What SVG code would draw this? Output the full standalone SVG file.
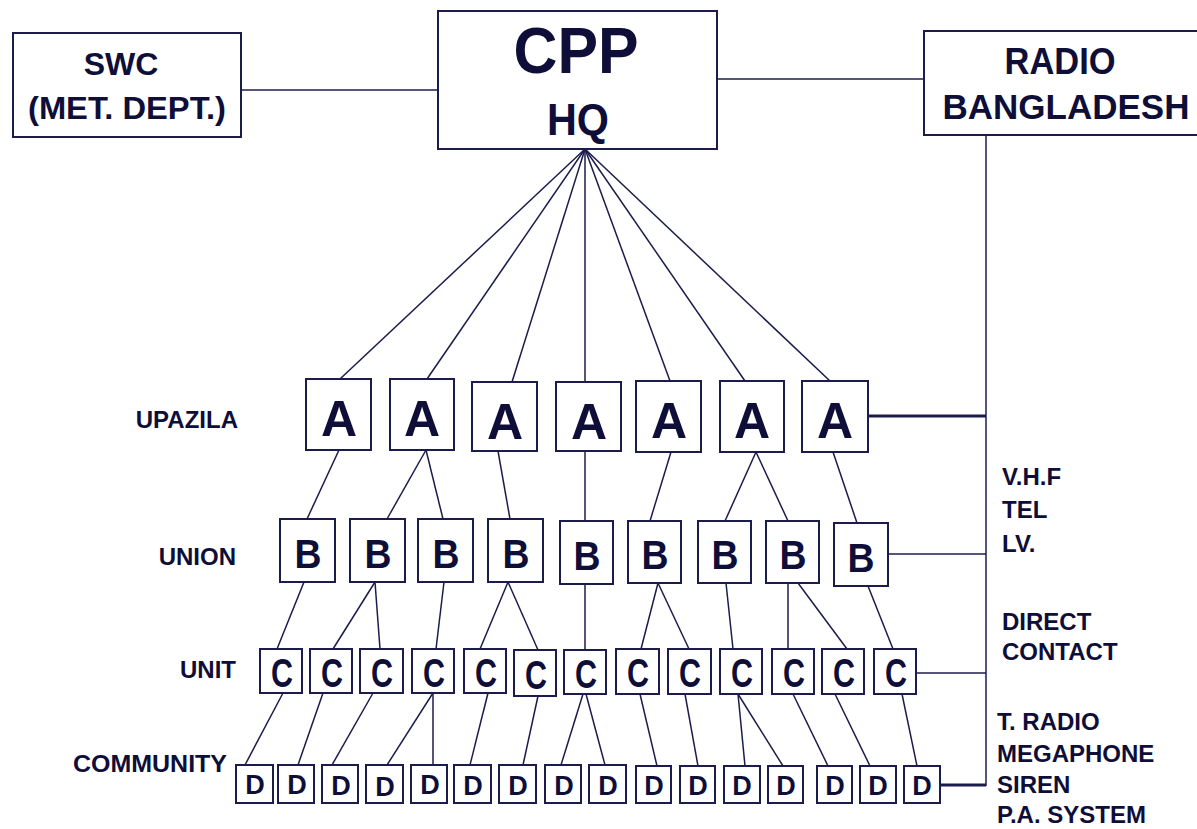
<svg xmlns="http://www.w3.org/2000/svg" width="1197" height="829" viewBox="0 0 1197 829">
<style>
.bx{fill:#fff;stroke:#1c1c4c;stroke-width:2}
.t{font-family:"Liberation Sans",Arial,sans-serif;font-weight:bold;fill:#0e0e38}
.m{text-anchor:middle}
.e{text-anchor:end}
.lbl{font-size:24px}
.ta{font-size:50px}
.tb{font-size:40px}
.tc{font-size:40px}
.td{font-size:27px}
#connectors line{stroke:#1c1c4c;stroke-width:1.5}
#connectors .thick{stroke-width:3}
</style>
<rect width="1197" height="829" fill="#fff"/>
<g id="connectors">
<line x1="241" y1="90" x2="438" y2="90"/>
<line x1="717" y1="79" x2="924" y2="79"/>
<line x1="986" y1="135" x2="986" y2="786"/>
<line class="thick" x1="868" y1="416" x2="986" y2="416"/>
<line x1="888" y1="554" x2="986" y2="554"/>
<line x1="916" y1="673" x2="986" y2="673"/>
<line class="thick" x1="940" y1="785" x2="986" y2="785"/>
<line x1="585" y1="149" x2="340" y2="379"/>
<line x1="585" y1="149" x2="427" y2="379"/>
<line x1="585" y1="149" x2="512" y2="382"/>
<line x1="585" y1="149" x2="585" y2="382"/>
<line x1="585" y1="149" x2="670" y2="381"/>
<line x1="585" y1="149" x2="745" y2="381"/>
<line x1="585" y1="149" x2="830" y2="381"/>
<line x1="339" y1="450" x2="307" y2="519"/>
<line x1="426" y1="450" x2="387" y2="519"/>
<line x1="426" y1="450" x2="443" y2="519"/>
<line x1="498" y1="451" x2="510" y2="519"/>
<line x1="585" y1="451" x2="585" y2="521"/>
<line x1="671" y1="452" x2="650" y2="521"/>
<line x1="756" y1="452" x2="725" y2="521"/>
<line x1="756" y1="452" x2="788" y2="521"/>
<line x1="833" y1="452" x2="857" y2="523"/>
<line x1="304" y1="582" x2="277" y2="649"/>
<line x1="375" y1="582" x2="333" y2="649"/>
<line x1="375" y1="582" x2="380" y2="649"/>
<line x1="444" y1="582" x2="436" y2="649"/>
<line x1="508" y1="582" x2="480" y2="649"/>
<line x1="508" y1="582" x2="538" y2="650"/>
<line x1="585" y1="584" x2="585" y2="650"/>
<line x1="658" y1="583" x2="641" y2="649"/>
<line x1="658" y1="583" x2="689" y2="649"/>
<line x1="726" y1="583" x2="733" y2="649"/>
<line x1="788" y1="583" x2="788" y2="649"/>
<line x1="798" y1="583" x2="847" y2="649"/>
<line x1="868" y1="586" x2="893" y2="649"/>
<line x1="283" y1="693" x2="245" y2="765"/>
<line x1="323" y1="693" x2="298" y2="765"/>
<line x1="373" y1="693" x2="332" y2="765"/>
<line x1="433" y1="693" x2="387" y2="765"/>
<line x1="433" y1="693" x2="433" y2="765"/>
<line x1="488" y1="693" x2="470" y2="765"/>
<line x1="538" y1="696" x2="523" y2="765"/>
<line x1="583" y1="694" x2="561" y2="765"/>
<line x1="586" y1="694" x2="605" y2="765"/>
<line x1="640" y1="694" x2="657" y2="766"/>
<line x1="685" y1="694" x2="698" y2="766"/>
<line x1="738" y1="694" x2="745" y2="766"/>
<line x1="738" y1="694" x2="783" y2="766"/>
<line x1="793" y1="694" x2="828" y2="766"/>
<line x1="835" y1="694" x2="870" y2="766"/>
<line x1="902" y1="694" x2="917" y2="766"/>
</g>
<g id="swc"><rect class="bx" x="13" y="33" width="228" height="104"/>
<text class="t m" x="121" y="75" font-size="32">SWC</text>
<text class="t m" x="127" y="119" font-size="31" textLength="198" lengthAdjust="spacingAndGlyphs">(MET. DEPT.)</text></g>
<g id="cpp"><rect class="bx" x="438" y="11" width="279" height="138"/>
<text class="t m" x="576" y="73" font-size="64" textLength="125" lengthAdjust="spacingAndGlyphs">CPP</text>
<text class="t m" x="578" y="135" font-size="44" textLength="62" lengthAdjust="spacingAndGlyphs">HQ</text></g>
<g id="radio"><rect class="bx" x="924" y="31" width="290" height="104"/>
<text class="t m" x="1060" y="74" font-size="36" textLength="111" lengthAdjust="spacingAndGlyphs">RADIO</text>
<text class="t m" x="1066" y="119" font-size="35" textLength="247" lengthAdjust="spacingAndGlyphs">BANGLADESH</text></g>
<g id="levels">
<text class="t e lbl" x="238" y="428">UPAZILA</text>
<text class="t e lbl" x="236" y="565">UNION</text>
<text class="t e lbl" x="236" y="678">UNIT</text>
<text class="t e lbl" x="227" y="772" textLength="154" lengthAdjust="spacingAndGlyphs">COMMUNITY</text>
</g>
<g id="means">
<text class="t lbl" x="1002" y="485">V.H.F</text>
<text class="t lbl" x="1002" y="518">TEL</text>
<text class="t lbl" x="1002" y="552">LV.</text>
<text class="t lbl" x="1002" y="630">DIRECT</text>
<text class="t lbl" x="1002" y="660">CONTACT</text>
<text class="t lbl" x="997" y="730">T. RADIO</text>
<text class="t lbl" x="997" y="762">MEGAPHONE</text>
<text class="t lbl" x="997" y="793">SIREN</text>
<text class="t lbl" x="997" y="823">P.A. SYSTEM</text>
</g>
<g id="a1"><rect class="bx" x="306" y="379" width="65" height="71"/><text class="t m ta" x="339" y="436">A</text></g>
<g id="a2"><rect class="bx" x="390" y="379" width="64" height="71"/><text class="t m ta" x="422" y="436">A</text></g>
<g id="a3"><rect class="bx" x="472" y="382" width="65" height="69"/><text class="t m ta" x="505" y="439">A</text></g>
<g id="a4"><rect class="bx" x="556" y="382" width="65" height="69"/><text class="t m ta" x="589" y="439">A</text></g>
<g id="a5"><rect class="bx" x="636" y="381" width="65" height="71"/><text class="t m ta" x="669" y="438">A</text></g>
<g id="a6"><rect class="bx" x="720" y="381" width="64" height="71"/><text class="t m ta" x="752" y="438">A</text></g>
<g id="a7"><rect class="bx" x="802" y="381" width="66" height="71"/><text class="t m ta" x="835" y="438">A</text></g>
<g id="b1"><rect class="bx" x="280" y="519" width="55" height="63"/><text class="t m tb" x="308" y="568" textLength="27" lengthAdjust="spacingAndGlyphs">B</text></g>
<g id="b2"><rect class="bx" x="350" y="519" width="55" height="63"/><text class="t m tb" x="378" y="568" textLength="27" lengthAdjust="spacingAndGlyphs">B</text></g>
<g id="b3"><rect class="bx" x="418" y="519" width="55" height="63"/><text class="t m tb" x="446" y="568" textLength="27" lengthAdjust="spacingAndGlyphs">B</text></g>
<g id="b4"><rect class="bx" x="488" y="519" width="55" height="63"/><text class="t m tb" x="516" y="568" textLength="27" lengthAdjust="spacingAndGlyphs">B</text></g>
<g id="b5"><rect class="bx" x="560" y="521" width="53" height="63"/><text class="t m tb" x="587" y="570" textLength="27" lengthAdjust="spacingAndGlyphs">B</text></g>
<g id="b6"><rect class="bx" x="628" y="521" width="53" height="62"/><text class="t m tb" x="655" y="569" textLength="27" lengthAdjust="spacingAndGlyphs">B</text></g>
<g id="b7"><rect class="bx" x="698" y="521" width="53" height="62"/><text class="t m tb" x="725" y="569" textLength="27" lengthAdjust="spacingAndGlyphs">B</text></g>
<g id="b8"><rect class="bx" x="766" y="521" width="53" height="62"/><text class="t m tb" x="793" y="569" textLength="27" lengthAdjust="spacingAndGlyphs">B</text></g>
<g id="b9"><rect class="bx" x="834" y="523" width="54" height="63"/><text class="t m tb" x="861" y="572" textLength="27" lengthAdjust="spacingAndGlyphs">B</text></g>
<g id="c1"><rect class="bx" x="260" y="649" width="42" height="44"/><text class="t m tc" x="282" y="687" textLength="22" lengthAdjust="spacingAndGlyphs">C</text></g>
<g id="c2"><rect class="bx" x="310" y="649" width="42" height="44"/><text class="t m tc" x="332" y="687" textLength="22" lengthAdjust="spacingAndGlyphs">C</text></g>
<g id="c3"><rect class="bx" x="360" y="649" width="43" height="44"/><text class="t m tc" x="382" y="687" textLength="22" lengthAdjust="spacingAndGlyphs">C</text></g>
<g id="c4"><rect class="bx" x="412" y="649" width="42" height="44"/><text class="t m tc" x="434" y="687" textLength="22" lengthAdjust="spacingAndGlyphs">C</text></g>
<g id="c5"><rect class="bx" x="464" y="649" width="42" height="44"/><text class="t m tc" x="486" y="687" textLength="22" lengthAdjust="spacingAndGlyphs">C</text></g>
<g id="c6"><rect class="bx" x="514" y="650" width="42" height="46"/><text class="t m tc" x="536" y="689" textLength="22" lengthAdjust="spacingAndGlyphs">C</text></g>
<g id="c7"><rect class="bx" x="564" y="650" width="42" height="44"/><text class="t m tc" x="586" y="688" textLength="22" lengthAdjust="spacingAndGlyphs">C</text></g>
<g id="c8"><rect class="bx" x="616" y="649" width="43" height="45"/><text class="t m tc" x="638" y="687" textLength="22" lengthAdjust="spacingAndGlyphs">C</text></g>
<g id="c9"><rect class="bx" x="668" y="649" width="43" height="45"/><text class="t m tc" x="690" y="687" textLength="22" lengthAdjust="spacingAndGlyphs">C</text></g>
<g id="c10"><rect class="bx" x="720" y="649" width="42" height="45"/><text class="t m tc" x="742" y="687" textLength="22" lengthAdjust="spacingAndGlyphs">C</text></g>
<g id="c11"><rect class="bx" x="772" y="649" width="42" height="45"/><text class="t m tc" x="794" y="687" textLength="22" lengthAdjust="spacingAndGlyphs">C</text></g>
<g id="c12"><rect class="bx" x="822" y="649" width="42" height="45"/><text class="t m tc" x="844" y="687" textLength="22" lengthAdjust="spacingAndGlyphs">C</text></g>
<g id="c13"><rect class="bx" x="874" y="649" width="42" height="45"/><text class="t m tc" x="896" y="687" textLength="22" lengthAdjust="spacingAndGlyphs">C</text></g>
<g id="d1"><rect class="bx" x="236" y="765" width="37" height="38"/><text class="t m td" x="255" y="794">D</text></g>
<g id="d2"><rect class="bx" x="278" y="765" width="36" height="38"/><text class="t m td" x="297" y="794">D</text></g>
<g id="d3"><rect class="bx" x="322" y="765" width="36" height="38"/><text class="t m td" x="341" y="795">D</text></g>
<g id="d4"><rect class="bx" x="366" y="765" width="37" height="38"/><text class="t m td" x="385" y="796">D</text></g>
<g id="d5"><rect class="bx" x="411" y="765" width="36" height="38"/><text class="t m td" x="430" y="794">D</text></g>
<g id="d6"><rect class="bx" x="454" y="765" width="37" height="38"/><text class="t m td" x="473" y="795">D</text></g>
<g id="d7"><rect class="bx" x="499" y="765" width="37" height="38"/><text class="t m td" x="518" y="795">D</text></g>
<g id="d8"><rect class="bx" x="545" y="765" width="36" height="38"/><text class="t m td" x="564" y="795">D</text></g>
<g id="d9"><rect class="bx" x="589" y="765" width="37" height="38"/><text class="t m td" x="608" y="795">D</text></g>
<g id="d10"><rect class="bx" x="636" y="766" width="35" height="37"/><text class="t m td" x="654" y="795">D</text></g>
<g id="d11"><rect class="bx" x="680" y="766" width="35" height="37"/><text class="t m td" x="698" y="795">D</text></g>
<g id="d12"><rect class="bx" x="724" y="766" width="36" height="37"/><text class="t m td" x="742" y="795">D</text></g>
<g id="d13"><rect class="bx" x="768" y="766" width="35" height="37"/><text class="t m td" x="786" y="795">D</text></g>
<g id="d14"><rect class="bx" x="817" y="766" width="35" height="37"/><text class="t m td" x="835" y="795">D</text></g>
<g id="d15"><rect class="bx" x="860" y="766" width="36" height="37"/><text class="t m td" x="878" y="795">D</text></g>
<g id="d16"><rect class="bx" x="904" y="766" width="36" height="37"/><text class="t m td" x="922" y="795">D</text></g>
</svg>
